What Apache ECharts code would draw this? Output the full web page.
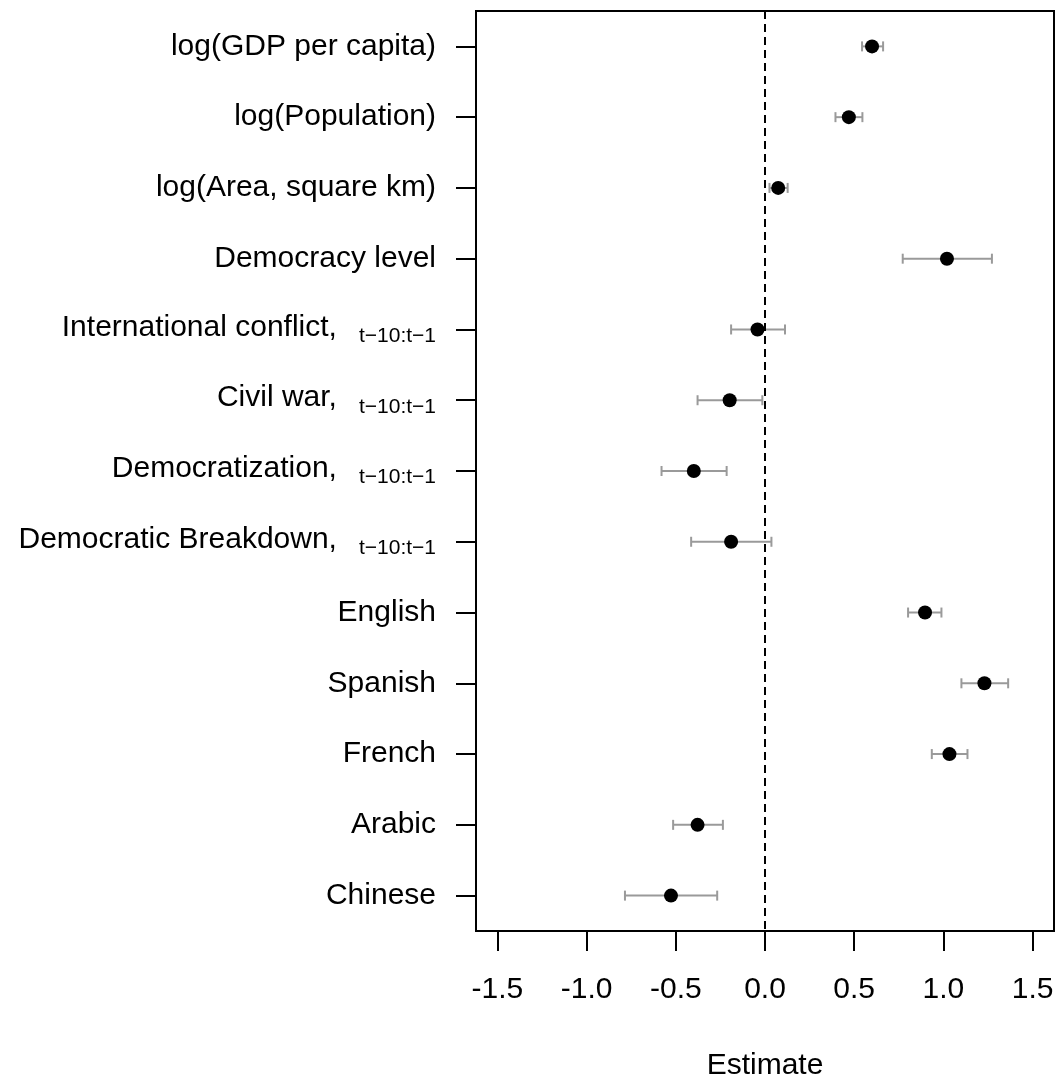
<!DOCTYPE html>
<html>
<head>
<meta charset="utf-8">
<script src="https://cdn.jsdelivr.net/npm/echarts@6/dist/echarts.min.js"></script>
<style>
  html, body { margin: 0; padding: 0; background: #fff; }
  #chart { width: 1060px; height: 1086px; }
</style>
</head>
<body>
<div id="chart"></div>
<script>
// variables, top to bottom
const variables = [
    "log(GDP per capita)",
    "log(Population)",
    "log(Area, square km)",
    "Democracy level",
    "International conflict,",
    "Civil war,",
    "Democratization,",
    "Democratic Breakdown,",
    "English",
    "Spanish",
    "French",
    "Arabic",
    "Chinese"
];
// subscript per variable ("" = none)
const subscripts = ["", "", "", "", "t−10:t−1", "t−10:t−1", "t−10:t−1", "t−10:t−1", "", "", "", "", ""];
const estimates = [0.60, 0.47, 0.074, 1.02, -0.042, -0.198, -0.399, -0.19, 0.897, 1.23, 1.034, -0.378, -0.527];
const lower = [0.544, 0.395, 0.025, 0.772, -0.19, -0.378, -0.58, -0.414, 0.802, 1.101, 0.935, -0.515, -0.785];
const upper = [0.662, 0.546, 0.127, 1.272, 0.112, -0.015, -0.215, 0.036, 0.989, 1.363, 1.135, -0.236, -0.268];
const xTicks = [-1.5, -1.0, -0.5, 0.0, 0.5, 1.0, 1.5];

const chart = echarts.init(document.getElementById("chart"));

const pointData = estimates.map((v, i) => [v, i]);
const barData = lower.map((lo, i) => [lo, upper[i], i]);

const font = "Liberation Sans, Arial, sans-serif";

chart.setOption({
    animation: false,
    grid: {
        left: 476,
        right: 6,
        top: 11,
        bottom: 153,
        show: true,
        borderColor: "#000",
        borderWidth: 2
    },
    xAxis: {
        type: "value",
        min: -1.62,
        max: 1.62,
        splitLine: { show: false },
        axisLine: { show: true, onZero: false, lineStyle: { color: "#000", width: 2 } },
        axisTick: {
            show: true,
            length: 20,
            lineStyle: { color: "#000", width: 2 },
            customValues: xTicks
        },
        axisLabel: {
            margin: 44,
            fontSize: 30,
            fontFamily: font,
            color: "#000",
            customValues: xTicks,
            formatter: (v) => v.toFixed(1)
        },
        name: "Estimate",
        nameLocation: "middle",
        nameGap: 120,
        nameTextStyle: { fontSize: 30, fontFamily: font, color: "#000", verticalAlign: "top" }
    },
    yAxis: {
        type: "category",
        inverse: true,
        data: variables,
        boundaryGap: true,
        axisLine: { show: true, onZero: false, lineStyle: { color: "#000", width: 2 } },
        axisTick: {
            show: true,
            alignWithLabel: true,
            length: 20,
            lineStyle: { color: "#000", width: 2 }
        },
        axisLabel: {
            margin: 40,
            interval: 0,
            formatter: (name, i) => {
                const s = subscripts[i];
                return s
                    ? "{mt|" + name + "}{s|" + s + "}"
                    : "{m|" + name + "}";
            },
            rich: {
                m: { fontSize: 30, fontFamily: font, color: "#000", lineHeight: 40, verticalAlign: "middle" },
                mt: { fontSize: 30, fontFamily: font, color: "#000", lineHeight: 34, verticalAlign: "top" },
                s: { fontSize: 21, fontFamily: font, color: "#000", lineHeight: 30, verticalAlign: "bottom", padding: [20, 0, 0, 22] }
            }
        }
    },
    series: [
        {
            type: "custom",
            data: barData,
            encode: { x: [0, 1], y: 2 },
            renderItem: (params, api) => {
                const y = api.value(2);
                const a = api.coord([api.value(0), y]);
                const b = api.coord([api.value(1), y]);
                const h = 5;
                const style = { stroke: "#9a9a9a", lineWidth: 2 };
                return {
                    type: "group",
                    children: [
                        { type: "line", shape: { x1: a[0], y1: a[1], x2: b[0], y2: b[1] }, style },
                        { type: "line", shape: { x1: a[0], y1: a[1] - h, x2: a[0], y2: a[1] + h }, style },
                        { type: "line", shape: { x1: b[0], y1: b[1] - h, x2: b[0], y2: b[1] + h }, style }
                    ]
                };
            },
            z: 2
        },
        {
            type: "scatter",
            data: pointData,
            symbol: "circle",
            symbolSize: 14,
            itemStyle: { color: "#000", opacity: 1 },
            z: 3,
            markLine: {
                silent: true,
                symbol: "none",
                label: { show: false },
                lineStyle: { color: "#000", type: [8, 5], width: 2 },
                data: [{ xAxis: 0 }]
            }
        }
    ]
});
</script>
</body>
</html>
